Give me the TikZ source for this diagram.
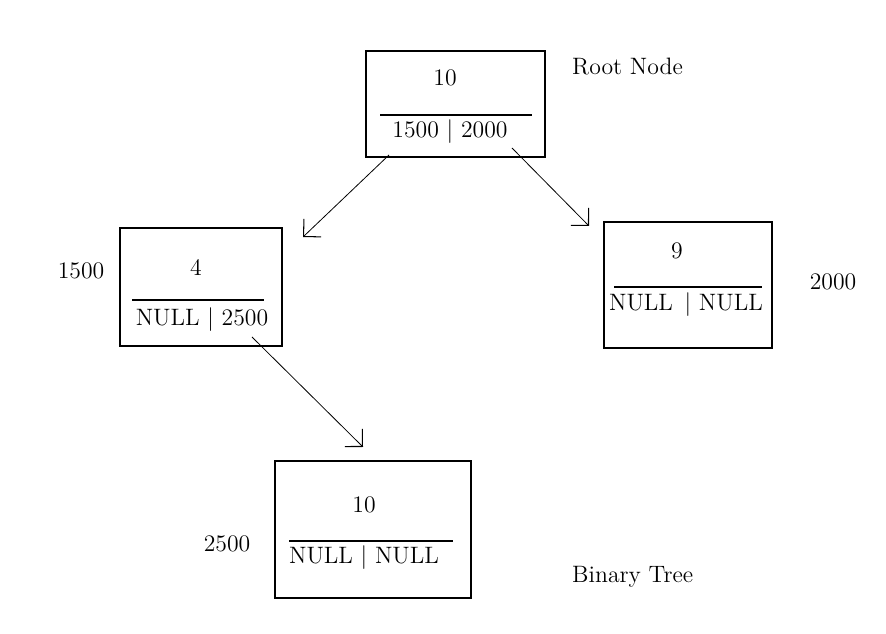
\documentclass[tikz,border=0pt]{standalone}
\usepackage{tikz}
\usetikzlibrary{arrows.meta,positioning,calc}

\begin{document}
\begin{tikzpicture}[
    x=0.02cm, y=-0.02cm,
    font=\fontsize{13.5}{16}\selectfont,
    cell/.style={draw, line width=0.7pt, inner sep=0pt},
    rule/.style={line width=0.6pt},
    arrow/.style={-{Straight Barb[angle=90:10pt, line width=0.6pt]}, line width=0.45pt}
]
    \useasboundingbox (0,0) rectangle (886,634);

    % Root node
    \node[cell, minimum width=3.58cm, minimum height=2.12cm] (root) at (455.5,104) {};
    \node (rootval) at (445,78) {10};
    \node (rootptr) at (450,132) {1500 | 2000};
    \draw[rule] (380,115) -- (532,115);
    \node[anchor=west] (rootlbl) at (566,67) {Root Node};

    % Left child
    \node[cell, minimum width=3.24cm, minimum height=2.36cm] (left) at (201,287) {};
    \node (leftval) at (196,267) {4};
    \node (leftptr) at (202,320) {NULL | 2500};
    \draw[rule] (132,300) -- (264,300);
    \node (leftaddr) at (81,271) {1500};

    % Right child
    \node[cell, minimum width=3.36cm, minimum height=2.52cm] (right) at (688,285) {};
    \node (rightval) at (677,251) {9};
    \node (rightptr) at (686,305) {NULL \,| NULL};
    \draw[rule] (614,287) -- (762,287);
    \node (rightaddr) at (833,282) {2000};

    % Bottom child
    \node[cell, minimum width=3.92cm, minimum height=2.74cm] (bottom) at (373,529.5) {};
    \node (bottomval) at (364,505) {10};
    \node (bottomptr) at (364,558) {NULL | NULL};
    \draw[rule] (289,541) -- (453,541);
    \node (bottomaddr) at (227,544) {2500};
    \node[anchor=west] (treelbl) at (566,577) {Binary Tree};

    % Pointers
    \coordinate (rl) at (389,155);
    \coordinate (rr) at (512,148);
    \coordinate (lb) at (252,337);
    \coordinate (toleft) at (303,237);
    \coordinate (toright) at (589,226);
    \coordinate (tobottom) at (363,447);
    \draw[arrow] (rl) -- (toleft);
    \draw[arrow] (rr) -- (toright);
    \draw[arrow] (lb) -- (tobottom);
\end{tikzpicture}
\end{document}
